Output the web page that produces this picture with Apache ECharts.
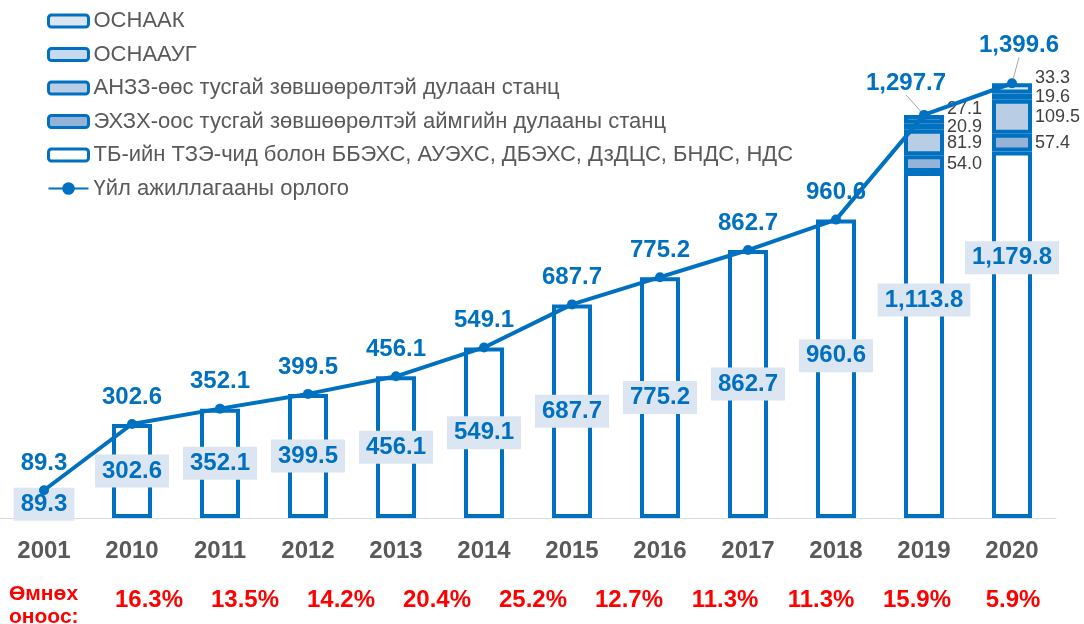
<!DOCTYPE html>
<html>
<head>
<meta charset="utf-8">
<script src="https://cdn.jsdelivr.net/npm/echarts@6/dist/echarts.min.js"></script>
<style>
  html, body { margin: 0; padding: 0; background: #fff; }
  #chart { width: 1084px; height: 624px; }
</style>
</head>
<body>
<div id="chart"></div>
<script>
const years = ["2001", "2010", "2011", "2012", "2013", "2014", "2015", "2016", "2017", "2018", "2019", "2020"];

const tbValues = [89.3, 302.6, 352.1, 399.5, 456.1, 549.1, 687.7, 775.2, 862.7, 960.6, 1113.8, 1179.8];
const ehzhValues = [null, null, null, null, null, null, null, null, null, null, 54.0, 57.4];
const anzzValues = [null, null, null, null, null, null, null, null, null, null, 81.9, 109.5];
const osnaaugValues = [null, null, null, null, null, null, null, null, null, null, 20.9, 19.6];
const osnaakValues = [null, null, null, null, null, null, null, null, null, null, 27.1, 33.3];
const revenueValues = [89.3, 302.6, 352.1, 399.5, 456.1, 549.1, 687.7, 775.2, 862.7, 960.6, 1297.7, 1399.6];

const growthLabels = ["16.3%", "13.5%", "14.2%", "20.4%", "25.2%", "12.7%", "11.3%", "11.3%", "15.9%", "5.9%"];

const names = {
    osnaak: "ОСНААК",
    osnaaug: "ОСНААУГ",
    anzz: "АНЗЗ-өөс тусгай зөвшөөрөлтэй дулаан станц",
    ehzh: "ЭХЗХ-оос тусгай зөвшөөрөлтэй аймгийн дулааны станц",
    tb: "ТБ-ийн ТЗЭ-чид болон ББЭХС, АУЭХС, ДБЭХС, ДзДЦС, БНДС, НДС",
    revenue: "Үйл ажиллагааны орлого"
};

const BLUE = "#0070C0";
const FONT = "Liberation Sans, Arial, sans-serif";

const fmt = v => Number(v).toLocaleString("en-US", { minimumFractionDigits: 1, maximumFractionDigits: 1 });

// moved labels (as in the source slide) for the last bars
const tbLabelShift = { 9: -13, 10: -45, 11: -77 };
const revLabelShift = { 10: [-18, -5], 11: [7, -11] };

const chart = echarts.init(document.getElementById("chart"));

function sideSeries(name, values, fill, shiftUp) {
    return {
        name: name,
        type: "bar",
        stack: "total",
        barWidth: 40,
        itemStyle: { color: fill, borderColor: BLUE, borderWidth: 4 },
        label: {
            show: true,
            position: "right",
            distance: 3,
            offset: [0, shiftUp || 0],
            color: "#404040",
            fontSize: 18,
            fontFamily: FONT,
            formatter: p => fmt(p.value)
        },
        data: values
    };
}

chart.setOption({
    animation: false,
    textStyle: { fontFamily: FONT },
    title: {
        text: "Өмнөх\nоноос:",
        left: 4,
        top: 578,
        textStyle: { color: "#FF0000", fontSize: 21, fontWeight: "bold", lineHeight: 23, fontFamily: FONT }
    },
    legend: {
        orient: "vertical",
        left: 42,
        top: 5,
        itemWidth: 40,
        itemHeight: 12,
        itemGap: 11.5,
        data: [names.osnaak, names.osnaaug, names.anzz, names.ehzh, names.tb, names.revenue],
        textStyle: { color: "#595959", fontSize: 22, fontFamily: FONT },
        itemStyle: { borderColor: BLUE, borderWidth: 3 }
    },
    grid: [
        { left: 0, right: 28, top: 21, bottom: 106 },
        { left: 101, right: 23, top: 21, bottom: 106 }
    ],
    xAxis: [
        {
            type: "category",
            gridIndex: 0,
            data: years,
            axisLine: { lineStyle: { color: "#D9D9D9", width: 1 } },
            axisTick: { show: false },
            axisLabel: { color: "#595959", fontSize: 24, fontWeight: "bold", margin: 21, fontFamily: FONT }
        },
        {
            type: "category",
            gridIndex: 1,
            data: growthLabels,
            axisLine: { show: false },
            axisTick: { show: false },
            axisLabel: { color: "#FF0000", fontSize: 24, fontWeight: "bold", margin: 70, fontFamily: FONT }
        }
    ],
    yAxis: [
        { type: "value", gridIndex: 0, min: 0, max: 1600, show: false },
        { type: "value", gridIndex: 1, min: 0, max: 1600, show: false }
    ],
    series: [
        {
            name: names.tb,
            type: "bar",
            stack: "total",
            barWidth: 40,
            itemStyle: { color: "#FFFFFF", borderColor: BLUE, borderWidth: 4 },
            label: {
                show: true,
                position: "inside",
                color: BLUE,
                fontSize: 24,
                fontWeight: "bold",
                fontFamily: FONT,
                backgroundColor: "#DCE6F2",
                padding: [5, 7, 4, 7],
                formatter: p => fmt(p.value)
            },
            data: tbValues.map((v, i) => tbLabelShift[i] !== undefined
                ? { value: v, label: { offset: [0, tbLabelShift[i]] } }
                : v)
        },
        sideSeries(names.ehzh, ehzhValues, "#95B3D7"),
        sideSeries(names.anzz, anzzValues, "#B9CDE5"),
        sideSeries(names.osnaaug, osnaaugValues, "#C6D9F1"),
        sideSeries(names.osnaak, osnaakValues, "#DCE6F2", -10),
        {
            name: names.revenue,
            type: "line",
            z: 5,
            symbol: "circle",
            symbolSize: 10,
            color: BLUE,
            lineStyle: { color: BLUE, width: 4 },
            itemStyle: { color: BLUE },
            label: {
                show: true,
                position: "top",
                distance: 10,
                color: BLUE,
                fontSize: 24,
                fontWeight: "bold",
                fontFamily: FONT,
                formatter: p => fmt(p.value)
            },
            labelLine: { show: false, lineStyle: { color: "#A6A6A6", width: 1 } },
            labelLayout: function (p) {
                const s = revLabelShift[p.dataIndex];
                return s ? { dx: s[0], dy: s[1] } : {};
            },
            data: revenueValues.map((v, i) => revLabelShift[i]
                ? { value: v, labelLine: { show: true, lineStyle: { color: "#A6A6A6", width: 1 } } }
                : v)
        }
    ]
});
</script>
</body>
</html>
